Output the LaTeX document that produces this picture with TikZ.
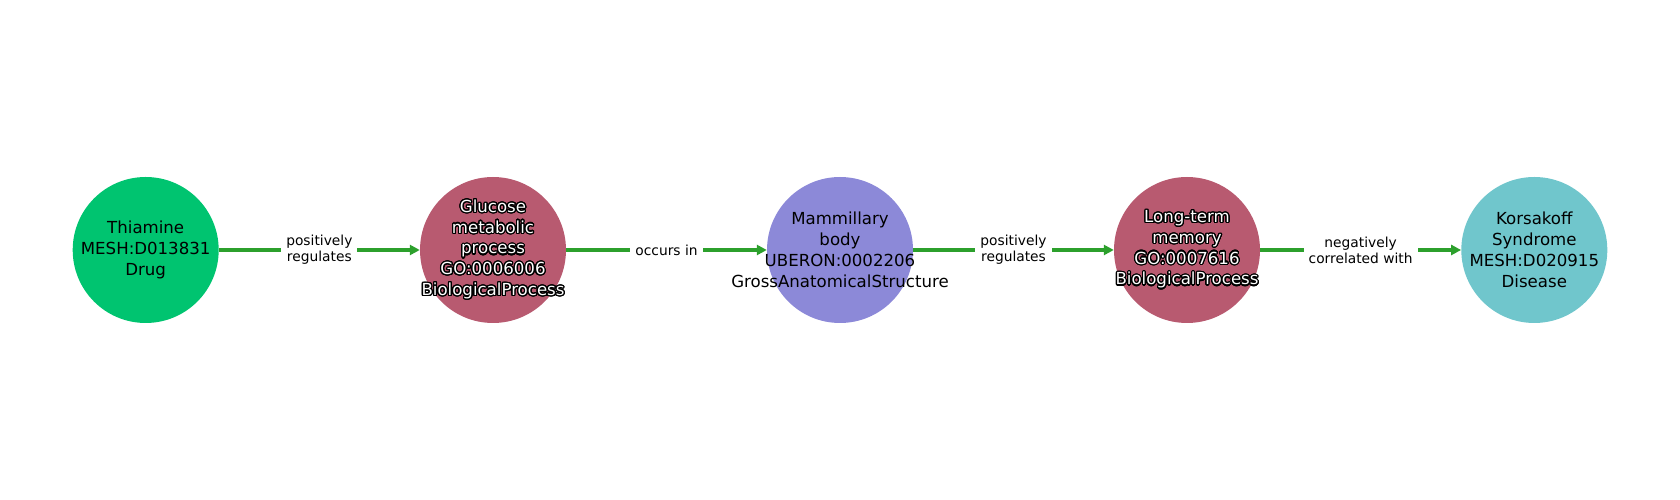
\documentclass[tikz,border=0pt]{standalone}
\usepackage{fontspec}
\setmainfont{DejaVu Sans}
\usepackage[copies]{contour}
\contourlength{1.2pt}
\contournumber{24}
\usetikzlibrary{arrows.meta}
\definecolor{cdrug}{RGB}{0,196,112}
\definecolor{cproc}{RGB}{184,90,112}
\definecolor{canat}{RGB}{140,137,216}
\definecolor{cdis}{RGB}{112,198,204}
\definecolor{cedge}{RGB}{44,160,44}
\tikzset{
  ent/.style={circle, minimum size=146pt, inner sep=0pt},
  etxt/.style={align=center, inner sep=0pt,
    font=\fontsize{16.6}{20.8}\selectfont, text=black},
  link/.style={draw=cedge, line width=3.5pt, -{Triangle[length=10pt,width=10pt]}},
  elab/.style={fill=white, inner xsep=5pt, inner ysep=1pt, align=center,
    font=\fontsize{13.8}{16}\selectfont, text=black},
}
\newcommand{\wtx}[1]{\contour{black}{\textcolor{white}{#1}}}
\begin{document}
\begin{tikzpicture}[x=1pt,y=1pt]
\useasboundingbox (0,0) rectangle (1680,500);
\node[ent, fill=cdrug] (n1) at (145.7,250) {};
\node[ent, fill=cproc] (n2) at (493,250) {};
\node[ent, fill=canat] (n3) at (840,250) {};
\node[ent, fill=cproc] (n4) at (1187,250) {};
\node[ent, fill=cdis] (n5) at (1534.3,250) {};
\node[etxt] (t1) at (n1) {Thiamine\\MESH:D013831\\Drug};
\node[etxt] (t2) at (n2) {\wtx{Glucose}\\\wtx{metabolic}\\\wtx{process}\\\wtx{GO:0006006}\\\wtx{BiologicalProcess}};
\node[etxt] (t3) at (n3) {Mammillary\\body\\UBERON:0002206\\GrossAnatomicalStructure};
\node[etxt] (t4) at (n4) {\wtx{Long-term}\\\wtx{memory}\\\wtx{GO:0007616}\\\wtx{BiologicalProcess}};
\node[etxt] (t5) at (n5) {Korsakoff\\Syndrome\\MESH:D020915\\Disease};
\draw[link] (n1) -- node[elab] {positively\\regulates} (n2);
\draw[link] (n2) -- node[elab] {occurs in} (n3);
\draw[link] (n3) -- node[elab] {positively\\regulates} (n4);
\draw[link] (n4) -- node[elab] {negatively\\correlated with} (n5);
\end{tikzpicture}
\end{document}
